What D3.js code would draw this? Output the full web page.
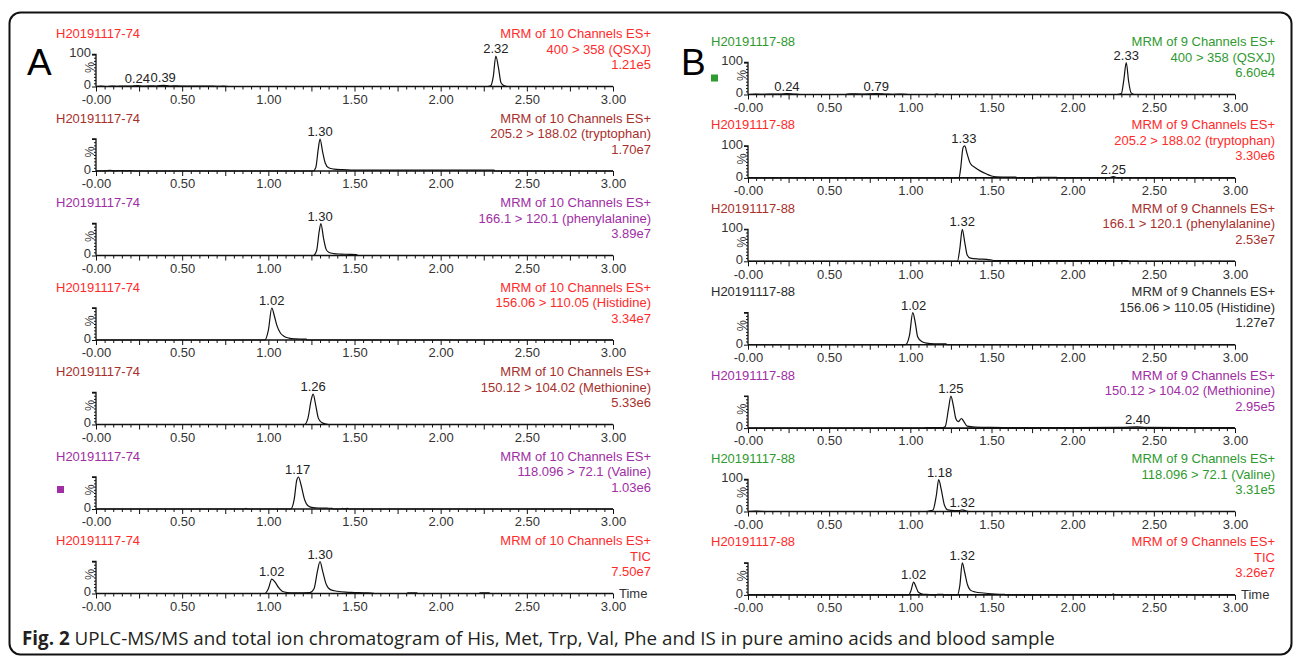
<!DOCTYPE html>
<html><head><meta charset="utf-8">
<script src="https://cdn.jsdelivr.net/npm/d3@7"></script>
<style>body{margin:0;background:#fff}svg{display:block}</style>
</head><body><svg id="c" width="1295" height="657"></svg>
<script>
// ================= DATA =================
const panelLetters = ["A", "B"];
const sampleA = "H20191117-74";
const sampleB = "H20191117-88";
const methodA = "MRM of 10 Channels ES+";
const methodB = "MRM of 9 Channels ES+";
const channelsA = ["400 > 358 (QSXJ)", "205.2 > 188.02 (tryptophan)", "166.1 > 120.1 (phenylalanine)", "156.06 > 110.05 (Histidine)", "150.12 > 104.02 (Methionine)", "118.096 > 72.1 (Valine)", "TIC"];
const intensitiesA = ["1.21e5", "1.70e7", "3.89e7", "3.34e7", "5.33e6", "1.03e6", "7.50e7"];
const channelsB = ["400 > 358 (QSXJ)", "205.2 > 188.02 (tryptophan)", "166.1 > 120.1 (phenylalanine)", "156.06 > 110.05 (Histidine)", "150.12 > 104.02 (Methionine)", "118.096 > 72.1 (Valine)", "TIC"];
const intensitiesB = ["6.60e4", "3.30e6", "2.53e7", "1.27e7", "2.95e5", "3.31e5", "3.26e7"];
const xTickValues = [0, 0.5, 1, 1.5, 2, 2.5, 3];
const xTickLabels = ["-0.00", "0.50", "1.00", "1.50", "2.00", "2.50", "3.00"];
const xAxisTitle = "Time";
const yAxisTitle = "%";
const yTickLabels = ["0", "100"];
const show100A = [true, false, false, false, false, false, false];
const show100B = [true, true, true, false, false, true, false];
// peak retention times (labels)
const peaksA = [[0.24, 0.39, 2.32], [1.30], [1.30], [1.02], [1.26], [1.17], [1.02, 1.30]];
const peaksB = [[0.24, 0.79, 2.33], [1.33, 2.25], [1.32], [1.02], [1.25, 2.40], [1.18, 1.32], [1.02, 1.32]];
// chromatogram traces: [time (min), relative intensity (%)]
const traceA1 = [[0,0],[0.03,1],[0.06,0],[0.09,1.5],[0.12,0.5],[0.16,1.5],[0.2,1],[0.24,3],[0.27,1],[0.31,2],[0.35,1.5],[0.39,3.5],[0.43,1.5],[0.47,2],[0.52,1],[0.57,1.5],[0.62,1],[0.66,1.5],[0.7,0.5],[0.74,1],[0.77,0],[2.27,0],[2.29,2],[2.305,30],[2.32,95],[2.335,60],[2.35,12],[2.37,2],[2.39,0],[3,0]];
const traceA2 = [[0,0],[0.05,0.5],[0.08,2],[0.11,0.5],[0.14,1.5],[0.18,0.5],[0.2,1.5],[0.23,0],[1.26,0],[1.275,10],[1.29,70],[1.30,100],[1.315,60],[1.33,25],[1.35,10],[1.38,6],[1.43,4],[1.48,3],[1.5,2.5],[1.6,2.5],[1.8,2.5],[2.0,2.5],[2.2,2.5],[2.31,2.5],[2.315,0],[3,0]];
const traceA3 = [[0,0],[1.26,0],[1.28,15],[1.295,75],[1.305,100],[1.32,55],[1.335,20],[1.35,10],[1.38,6],[1.42,4.5],[1.47,3.5],[1.51,2.5],[1.52,0],[3,0]];
const traceA4 = [[0,0],[0.98,0],[1.0,30],[1.02,100],[1.035,75],[1.05,45],[1.07,22],[1.09,12],[1.12,6],[1.16,3.5],[1.2,2.5],[1.22,2.5],[1.225,0],[3,0]];
const traceA5 = [[0,0],[1.21,0],[1.23,20],[1.25,80],[1.26,95],[1.275,60],[1.29,20],[1.31,6],[1.33,2],[1.35,0],[3,0]];
const traceA6 = [[0,0],[0.86,0],[0.87,2],[0.88,0],[1.13,0],[1.15,30],[1.165,90],[1.175,100],[1.19,75],[1.21,30],[1.23,10],[1.26,4],[1.3,3],[1.34,2.5],[1.37,2],[1.38,0],[1.42,0],[1.43,2],[1.44,0],[1.46,2],[1.47,0],[3,0]];
const traceA7 = [[0,0],[0.98,0],[1.0,15],[1.02,45],[1.04,35],[1.06,18],[1.08,7],[1.11,3],[1.15,2],[1.2,2],[1.24,2.5],[1.265,15],[1.285,70],[1.30,100],[1.315,70],[1.335,30],[1.36,12],[1.4,7],[1.45,4],[1.5,3],[1.55,2],[1.6,1.5],[1.62,0],[1.8,0],[1.81,2],[1.86,2],[1.87,0],[2.22,0],[2.23,2],[2.28,2],[2.29,0],[3,0]];
const traceB1 = [[0,0],[0.05,1],[0.1,0.5],[0.15,1.5],[0.2,1],[0.24,3],[0.28,1.5],[0.32,0],[0.6,0],[0.63,2],[0.7,1.5],[0.79,3],[0.85,1.5],[0.9,0.5],[0.95,1.5],[1.0,0],[1.15,0],[1.16,1.5],[1.18,0],[2.27,0],[2.3,3],[2.315,45],[2.33,100],[2.345,40],[2.36,5],[2.38,0],[3,0]];
const traceB2 = [[0,0],[1.3,0],[1.31,30],[1.325,95],[1.335,100],[1.35,75],[1.37,45],[1.4,32],[1.43,22],[1.47,12],[1.5,6],[1.53,3.5],[1.6,2.5],[1.65,2.5],[1.66,0],[1.77,0],[1.78,2],[1.9,2],[1.91,0],[2.22,0],[2.25,4],[2.28,0],[3,0]];
const traceB3 = [[0,0],[1.29,0],[1.305,40],[1.32,100],[1.335,60],[1.35,20],[1.37,10],[1.42,7],[1.47,6],[1.5,4],[1.52,2.5],[1.8,2.5],[2.1,2.5],[2.34,2.5],[2.345,0],[3,0]];
const traceB4 = [[0,0],[0.97,0],[0.995,30],[1.015,100],[1.03,70],[1.045,25],[1.07,10],[1.1,5],[1.15,3],[1.22,2.5],[1.225,0],[3,0]];
const traceB5 = [[0,0],[1.08,0],[1.1,1.5],[1.2,1.5],[1.215,5],[1.235,60],[1.25,100],[1.265,70],[1.28,30],[1.295,20],[1.315,30],[1.33,20],[1.35,6],[1.4,3],[1.5,2],[1.7,1.5],[2.0,1.5],[2.3,2],[2.4,4],[2.45,2],[2.7,1.5],[2.99,1.5],[3,0]];
const traceB6 = [[0,0],[0.05,1],[0.1,0],[1.1,0],[1.12,2],[1.14,5],[1.16,50],[1.175,100],[1.19,70],[1.21,20],[1.23,5],[1.27,2.5],[1.3,3],[1.32,5],[1.34,2],[1.36,0],[3,0]];
const traceB7 = [[0,0],[0.99,0],[1.005,15],[1.02,40],[1.035,25],[1.05,8],[1.08,2],[1.1,1.5],[1.15,0],[1.17,1.5],[1.2,1.5],[1.21,0],[1.29,0],[1.305,30],[1.32,100],[1.335,70],[1.35,35],[1.37,15],[1.4,9],[1.45,6],[1.5,3.5],[1.55,2],[1.58,1.5],[1.59,0],[2.24,0],[2.25,3],[2.26,0],[3,0]];
const tracesA = [traceA1, traceA2, traceA3, traceA4, traceA5, traceA6, traceA7];
const tracesB = [traceB1, traceB2, traceB3, traceB4, traceB5, traceB6, traceB7];
const captionBold = "Fig. 2";
const captionText = " UPLC-MS/MS and total ion chromatogram of His, Met, Trp, Val, Phe and IS in pure amino acids and blood sample";

// ================= STYLE / LAYOUT =================
const RED = "#ff2b2b", BROWN = "#a8302c", PURPLE = "#a02ea4", GREEN = "#2f9a2f", DARK = "#2b2b2b";
const colorsA = [RED, BROWN, PURPLE, RED, BROWN, PURPLE, RED];
const colorsB = [GREEN, RED, BROWN, DARK, PURPLE, GREEN, RED];
const FONT = "'Liberation Sans',Arial,sans-serif";
const FS = 13;

const layout = [
  { letter: panelLetters[0], sample: sampleA, method: methodA, channels: channelsA, intens: intensitiesA,
    show100: show100A, peaks: peaksA, traces: tracesA, colors: colorsA,
    x0: 96, x1: 613, right: 651, left: 56, base0: 86.5, step: 84.5, letterX: 27, square: 5, sqX: 57, sqDy: 23 },
  { letter: panelLetters[1], sample: sampleB, method: methodB, channels: channelsB, intens: intensitiesB,
    show100: show100B, peaks: peaksB, traces: tracesB, colors: colorsB,
    x0: 748, x1: 1235, right: 1275, left: 711, base0: 94.5, step: 83.4, letterX: 681, square: 0, sqX: 711, sqDy: 20 }
];
const AXH = 32;

const svg = d3.select("#c");
// frame
svg.append("rect").attr("x", 9.5).attr("y", 12.5).attr("width", 1282).attr("height", 642)
  .attr("rx", 11).attr("fill", "none").attr("stroke", "#111").attr("stroke-width", 2);

layout.forEach(P => {
  const x = d3.scaleLinear().domain([0, 3]).range([P.x0, P.x1]);
  svg.append("text").attr("x", P.letterX).attr("y", 75).attr("font-family", FONT)
    .attr("font-size", 37).attr("fill", "#000").text(P.letter);

  P.traces.forEach((tr, i) => {
    const base = P.base0 + P.step * i;
    const y = d3.scaleLinear().domain([0, 100]).range([base, base - AXH]);
    const g = svg.append("g");
    const col = P.colors[i];
    const lab = g.append("g").attr("font-family", FONT).attr("font-size", FS).attr("fill", col);
    lab.append("text").attr("x", P.left).attr("y", base - 48.5).text(P.sample);
    lab.append("text").attr("x", P.right).attr("y", base - 48.5).attr("text-anchor", "end").text(P.method);
    lab.append("text").attr("x", P.right).attr("y", base - 33).attr("text-anchor", "end").text(P.channels[i]);
    lab.append("text").attr("x", P.right).attr("y", base - 17.5).attr("text-anchor", "end").text(P.intens[i]);

    // x axis: minor ticks
    const minor = d3.range(0, 61).map(k => k * 0.05);
    g.append("g").attr("transform", `translate(0,${base})`)
      .call(d3.axisBottom(x).tickValues(minor.filter(v => Math.round(v * 100) % 25 !== 0)).tickSize(3).tickFormat(""))
      .call(a => a.select(".domain").remove());
    g.append("g").attr("transform", `translate(0,${base})`)
      .call(d3.axisBottom(x).tickValues(minor.filter(v => Math.round(v * 100) % 25 === 0 && Math.round(v*100) % 50 !== 0)).tickSize(5).tickFormat(""))
      .call(a => a.select(".domain").remove());
    const xa = g.append("g").attr("transform", `translate(0,${base})`)
      .call(d3.axisBottom(x).tickValues(xTickValues).tickSize(5).tickPadding(3)
        .tickFormat((d, k) => xTickLabels[k]));
    xa.select(".domain").attr("d", `M${P.x0},0H${P.x1}`);
    xa.selectAll("text").attr("font-family", FONT).attr("font-size", FS).attr("fill", "#333");
    g.selectAll(".tick line").attr("stroke", "#111");
    g.selectAll(".domain").attr("stroke", "#111").attr("stroke-width", 1.6);

    // y axis
    g.append("g").attr("transform", `translate(${P.x0},0)`)
      .call(d3.axisLeft(y).tickValues(d3.range(10, 100, 10)).tickSize(2).tickFormat(""))
      .call(a => a.select(".domain").remove())
      .selectAll("line").attr("stroke", "#111");
    const ya = g.append("g").attr("transform", `translate(${P.x0},0)`)
      .call(d3.axisLeft(y).tickValues([0, 100]).tickSize(4).tickPadding(1)
        .tickFormat((d, k) => (k === 1 && !P.show100[i]) ? "" : yTickLabels[k]));
    ya.select(".domain").attr("d", `M-4,${base - AXH}H0V${base}`).attr("stroke", "#111").attr("stroke-width", 1.3);
    ya.selectAll("text").attr("font-family", FONT).attr("font-size", FS).attr("fill", "#333").attr("dy", "0.18em");
    ya.selectAll("line").attr("stroke", "#111");
    g.append("text").attr("transform", `translate(${P.x0 - 6},${base - 19}) rotate(-90)`)
      .attr("text-anchor", "middle").attr("dy", "0.35em")
      .attr("font-family", FONT).attr("font-size", 12.5).attr("fill", "#333").text(yAxisTitle);

    // trace
    const line = d3.line().x(d => x(d[0])).y(d => y(d[1])).curve(d3.curveMonotoneX);
    g.append("path").datum(tr).attr("d", line).attr("fill", "none").attr("stroke", "#111").attr("stroke-width", 1.2);

    // peak labels
    P.peaks[i].forEach(rt => {
      const near = tr.filter(d => Math.abs(d[0] - rt) <= 0.016);
      const apex = d3.max(near, d => d[1]) || 0;
      g.append("text").attr("x", x(rt)).attr("y", y(apex) - 3).attr("text-anchor", "middle")
        .attr("font-family", FONT).attr("font-size", FS).attr("fill", "#222").text(rt.toFixed(2));
    });

    if (i === P.traces.length - 1) {
      g.append("text").attr("x", P.x1 + 6).attr("y", base + 4.5).attr("font-family", FONT)
        .attr("font-size", FS).attr("fill", "#333").text(xAxisTitle);
    }
    if (i === P.square) {
      g.append("rect").attr("x", P.sqX).attr("y", base - P.sqDy)
        .attr("width", 7).attr("height", 7).attr("fill", col);
    }
  });
});

// caption
const cap = svg.append("text").attr("x", 22).attr("y", 645).attr("font-family", "'Open Sans',sans-serif")
  .attr("font-size", 18.8).attr("fill", "#231f20");
cap.append("tspan").attr("font-weight", "bold").text(captionBold);
cap.append("tspan").text(captionText);
</script></body></html>
